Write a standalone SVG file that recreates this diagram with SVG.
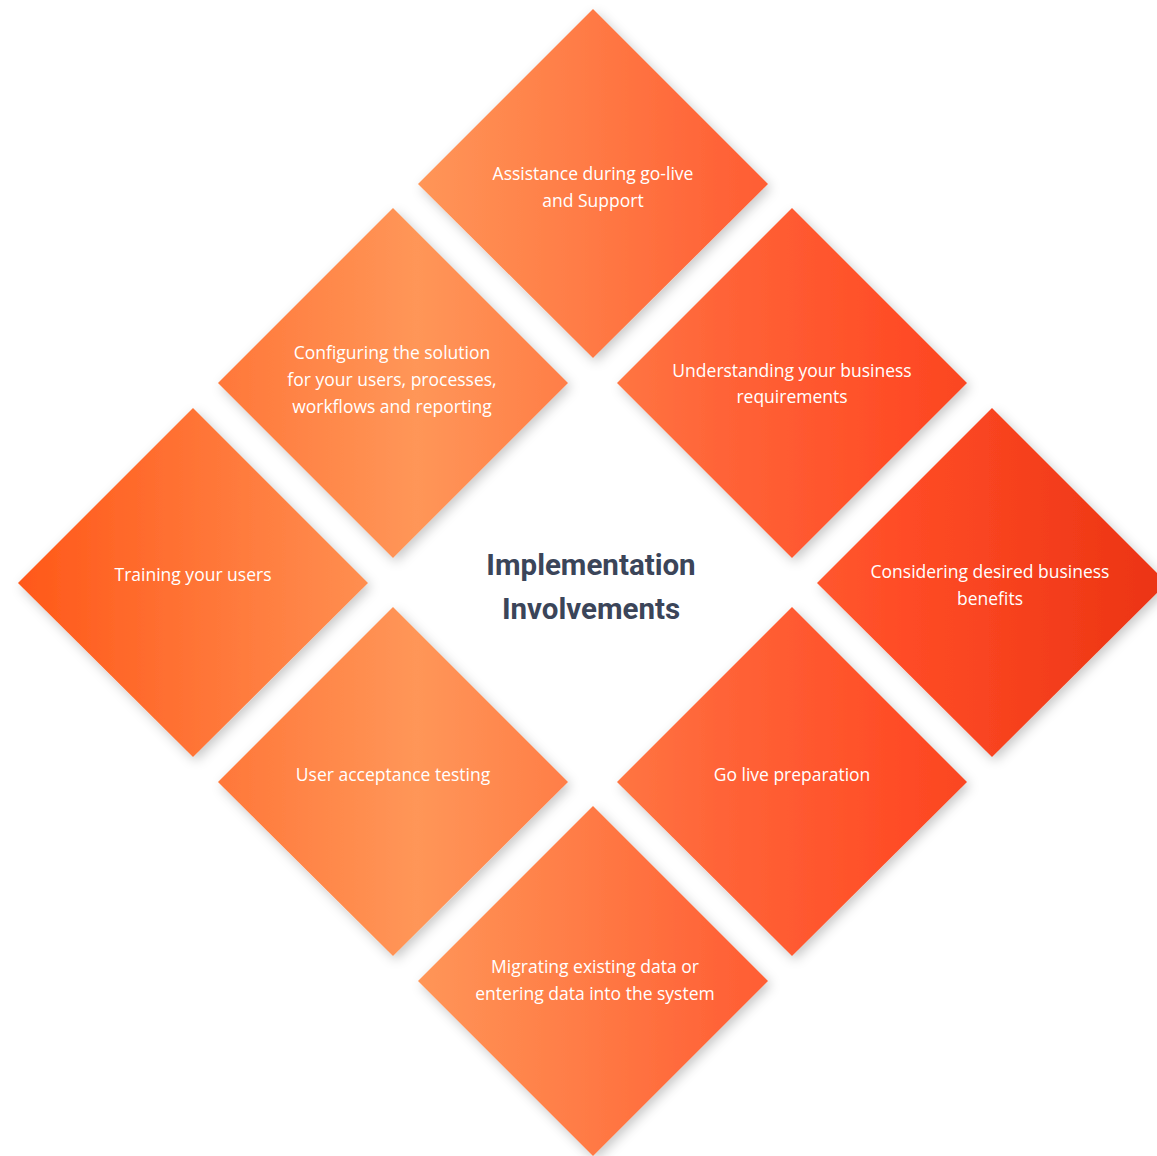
<svg xmlns="http://www.w3.org/2000/svg" width="1157" height="1156" viewBox="0 0 1157 1156">
<defs>
<linearGradient id="g" gradientUnits="userSpaceOnUse" x1="0" y1="0" x2="1157" y2="0">
<stop offset="0" stop-color="#FF5516"/>
<stop offset="0.17" stop-color="#FF7436"/>
<stop offset="0.36" stop-color="#FF9658"/>
<stop offset="0.5" stop-color="#FF7C46"/>
<stop offset="0.62" stop-color="#FF6438"/>
<stop offset="0.78" stop-color="#FF4C26"/>
<stop offset="1" stop-color="#EC3414"/>
</linearGradient>
<filter id="sh" x="-20%" y="-20%" width="140%" height="140%">
<feDropShadow dx="3" dy="4" stdDeviation="6" flood-color="#000" flood-opacity="0.22"/>
</filter>
</defs>
<style>
.d{fill:url(#g);filter:url(#sh)}
.t{font-family:"Open Sans",Lato,sans-serif;font-size:17.5px;fill:#FFFFFF;text-anchor:middle}
.h{font-family:Roboto,"Liberation Sans",sans-serif;font-size:29.5px;font-weight:bold;fill:#3B4559;text-anchor:middle}
</style>
<rect width="1157" height="1156" fill="#FFFFFF"/>
<g id="connectors"/>
<g id="n-assistance">
<polygon class="d" points="593,9 768,184 593,358 418,184"/>
<text class="t" x="593" y="180">Assistance during go-live</text>
<text class="t" x="593" y="207">and Support</text>
</g>
<g id="n-configuring">
<polygon class="d" points="393,208 568,383 393,558 218,383"/>
<text class="t" x="392" y="359">Configuring the solution</text>
<text class="t" x="392" y="386">for your users, processes,</text>
<text class="t" x="392" y="413">workflows and reporting</text>
</g>
<g id="n-understanding">
<polygon class="d" points="792,208 967,383 792,558 617,383"/>
<text class="t" x="792" y="377">Understanding your business</text>
<text class="t" x="792" y="403">requirements</text>
</g>
<g id="n-training">
<polygon class="d" points="193,408 368,583 193,757 18,583"/>
<text class="t" x="193" y="581">Training your users</text>
</g>
<g id="n-considering">
<polygon class="d" points="992,408 1167,583 992,757 817,583"/>
<text class="t" x="990" y="578">Considering desired business</text>
<text class="t" x="990" y="605">benefits</text>
</g>
<g id="n-uat">
<polygon class="d" points="393,607 568,782 393,956 218,782"/>
<text class="t" x="393" y="781">User acceptance testing</text>
</g>
<g id="n-golive">
<polygon class="d" points="792,607 967,782 792,956 617,782"/>
<text class="t" x="792" y="781">Go live preparation</text>
</g>
<g id="n-migrating">
<polygon class="d" points="593,806 768,981 593,1156 418,981"/>
<text class="t" x="595" y="973">Migrating existing data or</text>
<text class="t" x="595" y="1000">entering data into the system</text>
</g>
<g id="n-title">
<text class="h" x="591" y="575">Implementation</text>
<text class="h" x="591" y="619">Involvements</text>
</g>
</svg>
